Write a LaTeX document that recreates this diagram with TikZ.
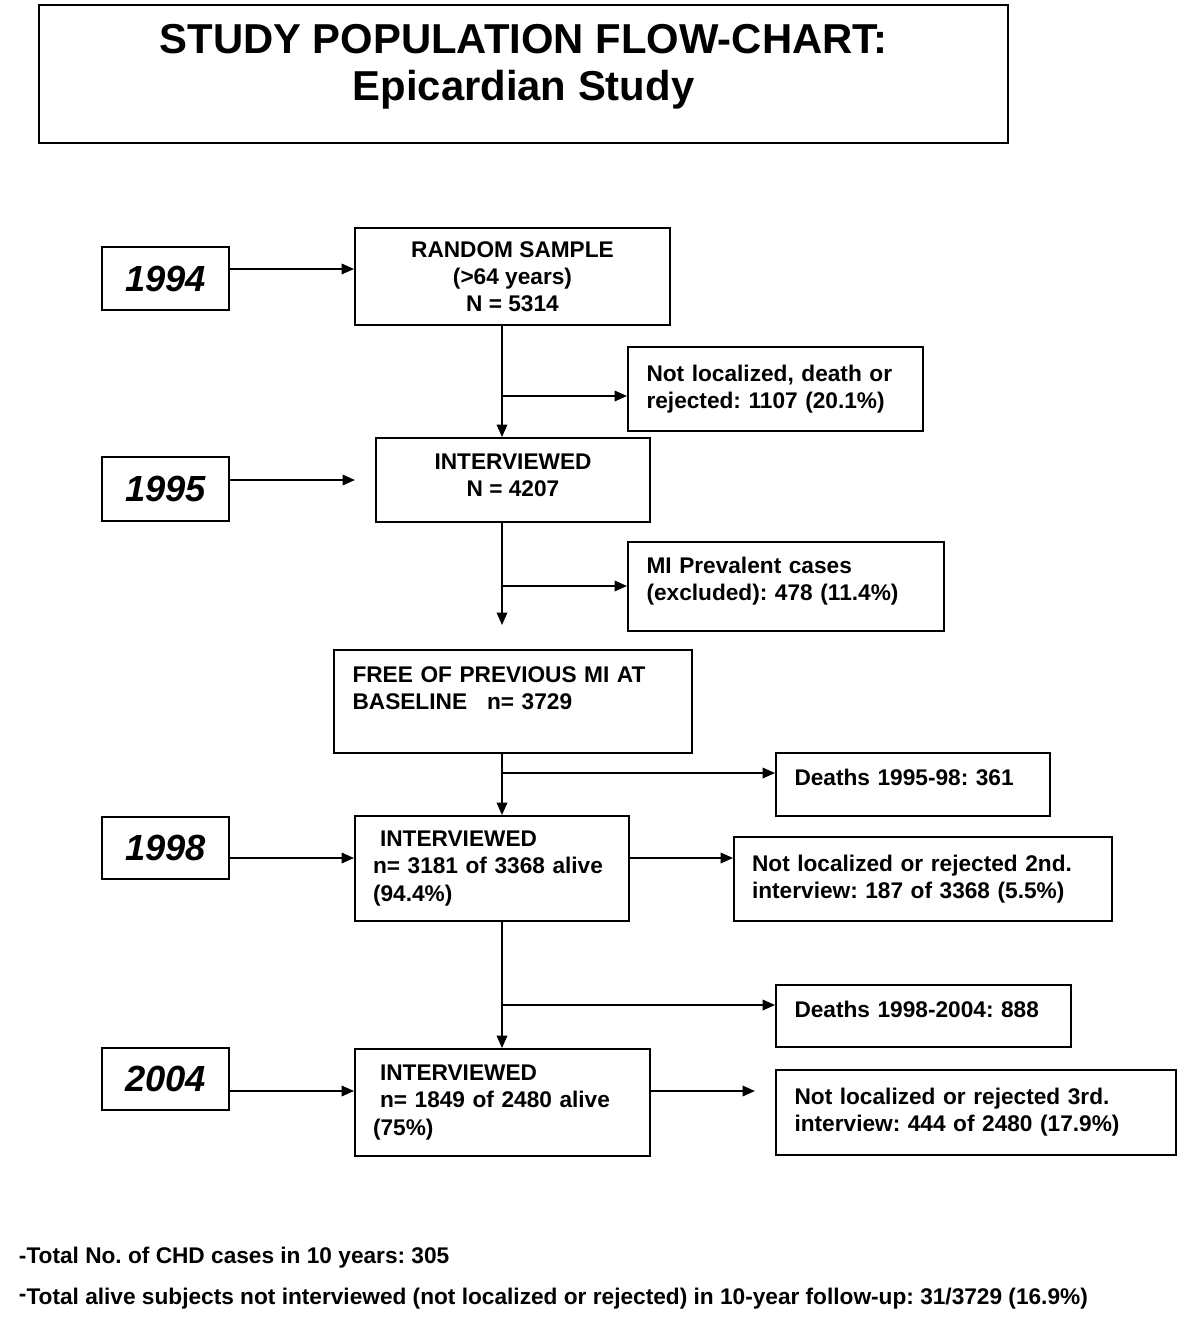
\documentclass[tikz,border=0pt]{standalone}
\usepackage{fontspec}
\setmainfont{Liberation Sans}
\usetikzlibrary{arrows.meta}
\frenchspacing

\newcommand{\bodytext}{\fontsize{12.9}{15.4}\selectfont\bfseries}
\newcommand{\yeartext}{\fontsize{20.7}{24}\selectfont\bfseries\itshape}
\newcommand{\titletext}{\fontsize{23.8}{27.2}\selectfont\bfseries}

\begin{document}
\begin{tikzpicture}[x=0.02cm, y=-0.02cm, line width=1.1pt,
	>={Triangle[length=0.25cm,width=0.21cm]},
	box/.style={draw, font=\bodytext, inner xsep=0.37cm},
	yearbox/.style={draw, font=\yeartext, minimum width=2.54cm}]
		\useasboundingbox (0,0) rectangle (1200,1326);

		\draw (523.5,74) node[draw, font=\titletext, minimum width=19.38cm, minimum height=2.76cm, align=center] (title) {STUDY POPULATION FLOW-CHART:\\Epicardian Study\\[-14pt]\mbox{}};

		% years
		\draw (165.5,278.5) node[yearbox, minimum height=1.26cm] (y1994) {1994};
		\draw (165.5,489) node[yearbox, minimum height=1.28cm] (y1995) {1995};
		\draw (165.5,848) node[yearbox, minimum height=1.24cm] (y1998) {1998};
		\draw (165.5,1079) node[yearbox, minimum height=1.24cm] (y2004) {2004};

		% main column
		\draw (512.5,276.5) node[box, minimum width=6.3cm, minimum height=1.94cm, align=center] (random) {RANDOM SAMPLE\\(>64 years)\\N = 5314};
		\draw (513,480) node[box, minimum width=5.48cm, minimum height=1.68cm, align=center] (int1) {INTERVIEWED\\N = 4207\\[-9.8pt]\mbox{}};
		\draw (513,701.5) node[box, text width=6.42cm, minimum height=2.06cm, align=left] (free) {FREE OF PREVIOUS MI AT\\BASELINE\hspace{0.4cm}n= 3729\\\mbox{}};
		\draw (492,868.5) node[box, inner xsep=0.36cm, text width=4.76cm, minimum height=2.1cm, align=left] (int2) {\hspace*{0.14cm}INTERVIEWED\\n= 3181 of 3368 alive\\(94.4\%)};
		\draw (502.5,1102.5) node[box, inner xsep=0.36cm, text width=5.18cm, minimum height=2.14cm, align=left] (int3) {\hspace*{0.14cm}INTERVIEWED\\\hspace*{0.14cm}n= 1849 of 2480 alive\\(75\%)};

		% side boxes
		\draw (775.5,389) node[box, text width=5.16cm, minimum height=1.68cm, align=left] (lost1) {Not localized, death or\\rejected: 1107 (20.1\%)};
		\draw (786,586.5) node[box, text width=5.58cm, minimum height=1.78cm, align=left] (prev) {MI Prevalent cases\\(excluded): 478 (11.4\%)\\[-7.1pt]\mbox{}};
		\draw (913,784.5) node[box, text width=4.74cm, minimum height=1.26cm, align=left] (dead1) {Deaths 1995-98: 361\\[-7.4pt]\mbox{}};
		\draw (923,879) node[box, inner xsep=0.36cm, text width=6.84cm, minimum height=1.68cm, align=left] (lost2) {Not localized or rejected 2nd.\\interview: 187 of 3368 (5.5\%)};
		\draw (923.5,1016) node[box, text width=5.16cm, minimum height=1.24cm, align=left] (dead2) {Deaths 1998-2004: 888\\[-7.4pt]\mbox{}};
		\draw (976,1112.5) node[box, text width=7.26cm, minimum height=1.7cm, align=left] (lost3) {Not localized or rejected 3rd.\\interview: 444 of 2480 (17.9\%)};

		% notes
		\draw (18,1258) node[anchor=west, font=\bodytext, inner sep=0pt] (note1) {-Total No. of CHD cases in 10 years: 305};
		\draw (18,1299) node[anchor=west, font=\bodytext, inner sep=0pt] (note2) {\raisebox{2pt}{-}Total alive subjects not interviewed (not localized or rejected) in 10-year follow-up: 31/3729 (16.9\%)};

		\coordinate (br1) at (502,396);
		\coordinate (br2) at (502,586);
		\coordinate (br3) at (502,773);
		\coordinate (br4) at (502,1005);
		\coordinate (end1995) at (355,480);
		\coordinate (endgap) at (502,625);
		\coordinate (end3rd) at (755,1091);

		\draw [->] (y1994.east |- 0,269) -- (random.west |- 0,269);
		\draw [->] (y1995.east |- end1995) -- (end1995);
		\draw [->] (y1998.east |- 0,858) -- (int2.west |- 0,858);
		\draw [->] (y2004.east |- 0,1091) -- (int3.west |- 0,1091);

		\draw [->] (random.south -| br1) -- (int1.north -| br1);
		\draw [->] (br1) -- (lost1.west |- br1);
		\draw [->] (int1.south -| br2) -- (endgap);
		\draw [->] (br2) -- (prev.west |- br2);
		\draw [->] (free.south -| br3) -- (int2.north -| br3);
		\draw [->] (br3) -- (dead1.west |- br3);
		\draw [->] (int2.south -| br4) -- (int3.north -| br4);
		\draw [->] (br4) -- (dead2.west |- br4);

		\draw [->] (int2.east |- 0,858) -- (lost2.west |- 0,858);
		\draw [->] (int3.east |- end3rd) -- (end3rd);
	\end{tikzpicture}
\end{document}
